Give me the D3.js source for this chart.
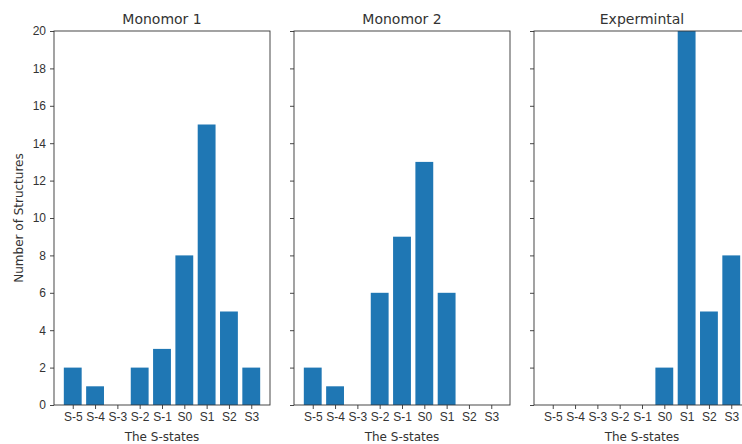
<!DOCTYPE html>
<html>
<head>
<meta charset="utf-8">
<script src="https://cdn.jsdelivr.net/npm/d3@7"></script>
<style>
  body { margin: 0; background: #fff; }
  svg { display: block; font-family: "DejaVu Sans", sans-serif; }
</style>
</head>
<body>
<div id="chart"></div>
<script>
const states = ["S-5", "S-4", "S-3", "S-2", "S-1", "S0", "S1", "S2", "S3"];
const titles = ["Monomor 1", "Monomor 2", "Expermintal"];
const monomer1 = [2, 1, 0, 2, 3, 8, 15, 5, 2];
const monomer2 = [2, 1, 0, 6, 9, 13, 6, 0, 0];
const experimental = [0, 0, 0, 0, 0, 2, 20, 5, 8];
const yTicks = [0, 2, 4, 6, 8, 10, 12, 14, 16, 18, 20];

const series = [monomer1, monomer2, experimental];

const width = 742, height = 444;
const plotTop = 31, plotBottom = 405;
const panelW = 216, gap = 24, firstLeft = 54;

const svg = d3.select("#chart").append("svg")
    .attr("width", width)
    .attr("height", height);

const y = d3.scaleLinear().domain([0, 20]).range([plotBottom, plotTop]);

// matplotlib style x: bar centres 0..8, width 0.8, 5% margins
const x = d3.scaleLinear().domain([-0.84, 8.84]).range([0, panelW]);

series.forEach((vals, p) => {
    const left = firstLeft + p * (panelW + gap);
    const g = svg.append("g").attr("transform", `translate(${left},0)`);

    g.append("clipPath").attr("id", "clip" + p)
        .append("rect").attr("x", 0).attr("y", plotTop)
        .attr("width", panelW).attr("height", plotBottom - plotTop);

    g.append("g").attr("clip-path", `url(#clip${p})`)
        .selectAll("rect")
        .data(vals)
        .enter()
        .append("rect")
        .attr("x", (d, i) => x(i - 0.4))
        .attr("width", x(0.8) - x(0))
        .attr("y", d => y(d))
        .attr("height", d => plotBottom - y(d))
        .attr("fill", "#1f77b4");

    // y axis
    const yAxis = d3.axisLeft(y).tickValues(yTicks).tickSize(4).tickPadding(4)
        .tickFormat(p === 0 ? d3.format("d") : () => "");
    const ya = g.append("g").call(yAxis);
    ya.select(".domain").remove();
    ya.selectAll("line").attr("stroke", "#333").attr("stroke-width", 0.9);
    ya.selectAll("text").attr("font-size", 12).attr("fill", "#333");

    // x axis
    const xAxis = d3.axisBottom(x).tickValues(d3.range(states.length))
        .tickFormat(i => states[i]).tickSize(4).tickPadding(3);
    const xa = g.append("g").attr("transform", `translate(0,${plotBottom})`).call(xAxis);
    xa.select(".domain").remove();
    xa.selectAll("line").attr("stroke", "#333").attr("stroke-width", 0.9);
    xa.selectAll("text").attr("font-size", 12).attr("fill", "#333");

    // frame
    g.append("rect")
        .attr("x", 0).attr("y", plotTop)
        .attr("width", panelW).attr("height", plotBottom - plotTop)
        .attr("fill", "none")
        .attr("stroke", "#333")
        .attr("stroke-width", 0.9);

    g.append("text")
        .attr("x", panelW / 2).attr("y", plotTop - 7)
        .attr("text-anchor", "middle")
        .attr("font-size", 14)
        .attr("fill", "#333")
        .text(titles[p]);

    g.append("text")
        .attr("x", panelW / 2).attr("y", plotBottom + 36)
        .attr("text-anchor", "middle")
        .attr("font-size", 12)
        .attr("fill", "#333")
        .text("The S-states");
});

svg.append("text")
    .attr("transform", `translate(23,${(plotTop + plotBottom) / 2}) rotate(-90)`)
    .attr("text-anchor", "middle")
    .attr("font-size", 12)
    .attr("fill", "#333")
    .text("Number of Structures");
</script>
</body>
</html>
